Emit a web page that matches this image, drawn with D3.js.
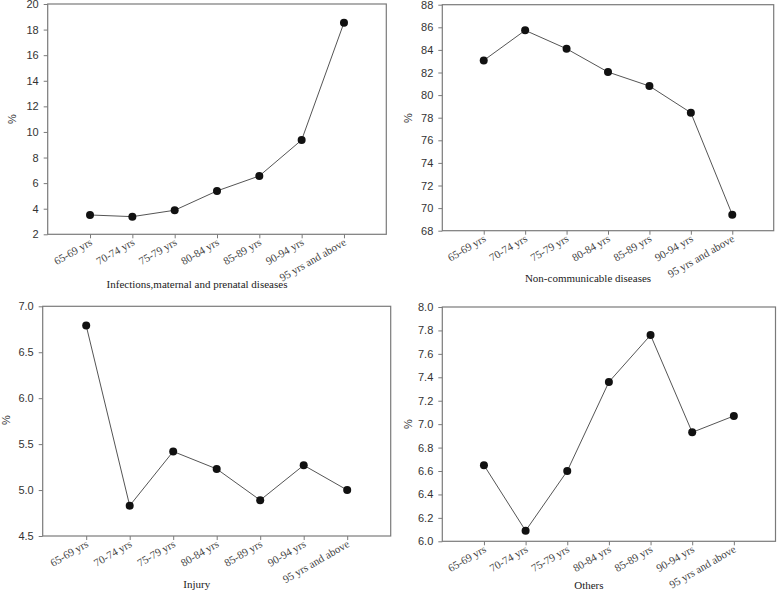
<!DOCTYPE html>
<html>
<head>
<meta charset="utf-8">
<script src="https://cdn.jsdelivr.net/npm/d3@7"></script>
<style>
  body { margin: 0; background: #fff; }
  svg { display: block; }
  .tick text { font-family: "Liberation Sans", Arial, sans-serif; font-size: 11px; fill: #333; }
  .xlab { font-family: "Liberation Serif", "Times New Roman", serif; font-size: 11px; fill: #444; }
  .title { font-family: "Liberation Serif", "Times New Roman", serif; font-size: 11px; fill: #222; }
  .pct { font-family: "Liberation Sans", Arial, sans-serif; font-size: 11px; fill: #333; }
</style>
</head>
<body>
<script>
// age groups along the x axis
const categories = ['65-69 yrs', '70-74 yrs', '75-79 yrs', '80-84 yrs', '85-89 yrs', '90-94 yrs', '95 yrs and above'];

// percentages
const infections = [3.51, 3.38, 3.88, 5.39, 6.56, 9.37, 18.54];
const nonCommunicable = [83.07, 85.73, 84.1, 82.04, 80.8, 78.44, 69.42];
const injury = [6.79, 4.83, 5.42, 5.23, 4.89, 5.27, 5.00];
const others = [6.65, 6.09, 6.60, 7.36, 7.76, 6.93, 7.07];

// y tick labels
const ticksInfections = [2, 4, 6, 8, 10, 12, 14, 16, 18, 20];
const ticksNonCommunicable = [68, 70, 72, 74, 76, 78, 80, 82, 84, 86, 88];
const ticksInjury = [4.5, 5.0, 5.5, 6.0, 6.5, 7.0];
const ticksOthers = [6.0, 6.2, 6.4, 6.6, 6.8, 7.0, 7.2, 7.4, 7.6, 7.8, 8.0];

const titles = ['Infections,maternal and prenatal diseases', 'Non-communicable diseases', 'Injury', 'Others'];

const width = 778, height = 593;
const svg = d3.select('body').append('svg')
  .attr('width', width)
  .attr('height', height);

const panels = [
  { values: infections, ticks: ticksInfections, fmt: d3.format('d'), title: titles[0],
    box: [47.7, 4, 386.3, 234.3], pct: [12, 119], titleY: 288 },
  { values: nonCommunicable, ticks: ticksNonCommunicable, fmt: d3.format('d'), title: titles[1],
    box: [442.3, 4.7, 773.7, 230.7], pct: [408, 118], titleY: 282 },
  { values: injury, ticks: ticksInjury, fmt: d3.format('.1f'), title: titles[2],
    box: [42.7, 306.3, 390.7, 536], pct: [6, 420], titleY: 588 },
  { values: others, ticks: ticksOthers, fmt: d3.format('.1f'), title: titles[3],
    box: [442.3, 307, 775.5, 541.3], pct: [408, 424], titleY: 589 }
];

panels.forEach(function (p) {
  const [x0, y0, x1, y1] = p.box;
  const g = svg.append('g');

  const xScale = d3.scalePoint()
    .domain(categories)
    .range([x0, x1])
    .padding(1);

  const yScale = d3.scaleLinear()
    .domain(d3.extent(p.ticks))
    .range([y1, y0]);

  // frame
  g.append('rect')
    .attr('x', x0).attr('y', y0)
    .attr('width', x1 - x0).attr('height', y1 - y0)
    .attr('fill', 'none')
    .attr('stroke', '#7a7a7a')
    .attr('stroke-width', 1.2);

  const yAxis = d3.axisLeft(yScale)
    .tickValues(p.ticks)
    .tickFormat(p.fmt)
    .tickSize(4)
    .tickPadding(5);

  const ya = g.append('g')
    .attr('transform', 'translate(' + x0 + ',0)')
    .call(yAxis);
  ya.select('.domain').remove();
  ya.selectAll('.tick line').attr('stroke', '#7a7a7a');

  const xAxis = d3.axisBottom(xScale)
    .tickSize(4)
    .tickFormat('');

  const xa = g.append('g')
    .attr('transform', 'translate(0,' + y1 + ')')
    .call(xAxis);
  xa.select('.domain').remove();
  xa.selectAll('.tick line').attr('stroke', '#7a7a7a');

  // rotated category labels
  g.selectAll('.xlab')
    .data(categories)
    .enter().append('text')
    .attr('class', 'xlab')
    .attr('text-anchor', 'end')
    .attr('transform', function (d) {
      return 'translate(' + (xScale(d) + 3) + ',' + (y1 + 10) + ') rotate(-30)';
    })
    .text(function (d) { return d; });

  g.append('text')
    .attr('class', 'pct')
    .attr('text-anchor', 'middle')
    .attr('transform', 'translate(' + p.pct[0] + ',' + p.pct[1] + ') rotate(-90)')
    .attr('dy', '0.35em')
    .text('%');

  g.append('text')
    .attr('class', 'title')
    .attr('text-anchor', 'middle')
    .attr('x', (x0 + x1) / 2 - 20)
    .attr('y', p.titleY)
    .text(p.title);

  const line = d3.line()
    .x(function (d, i) { return xScale(categories[i]); })
    .y(function (d) { return yScale(d); });

  g.append('path')
    .datum(p.values)
    .attr('d', line)
    .attr('fill', 'none')
    .attr('stroke', '#555')
    .attr('stroke-width', 1);

  g.selectAll('.dot')
    .data(p.values)
    .enter().append('circle')
    .attr('class', 'dot')
    .attr('cx', function (d, i) { return xScale(categories[i]); })
    .attr('cy', function (d) { return yScale(d); })
    .attr('r', 4)
    .attr('fill', '#111');
});
</script>
</body>
</html>
